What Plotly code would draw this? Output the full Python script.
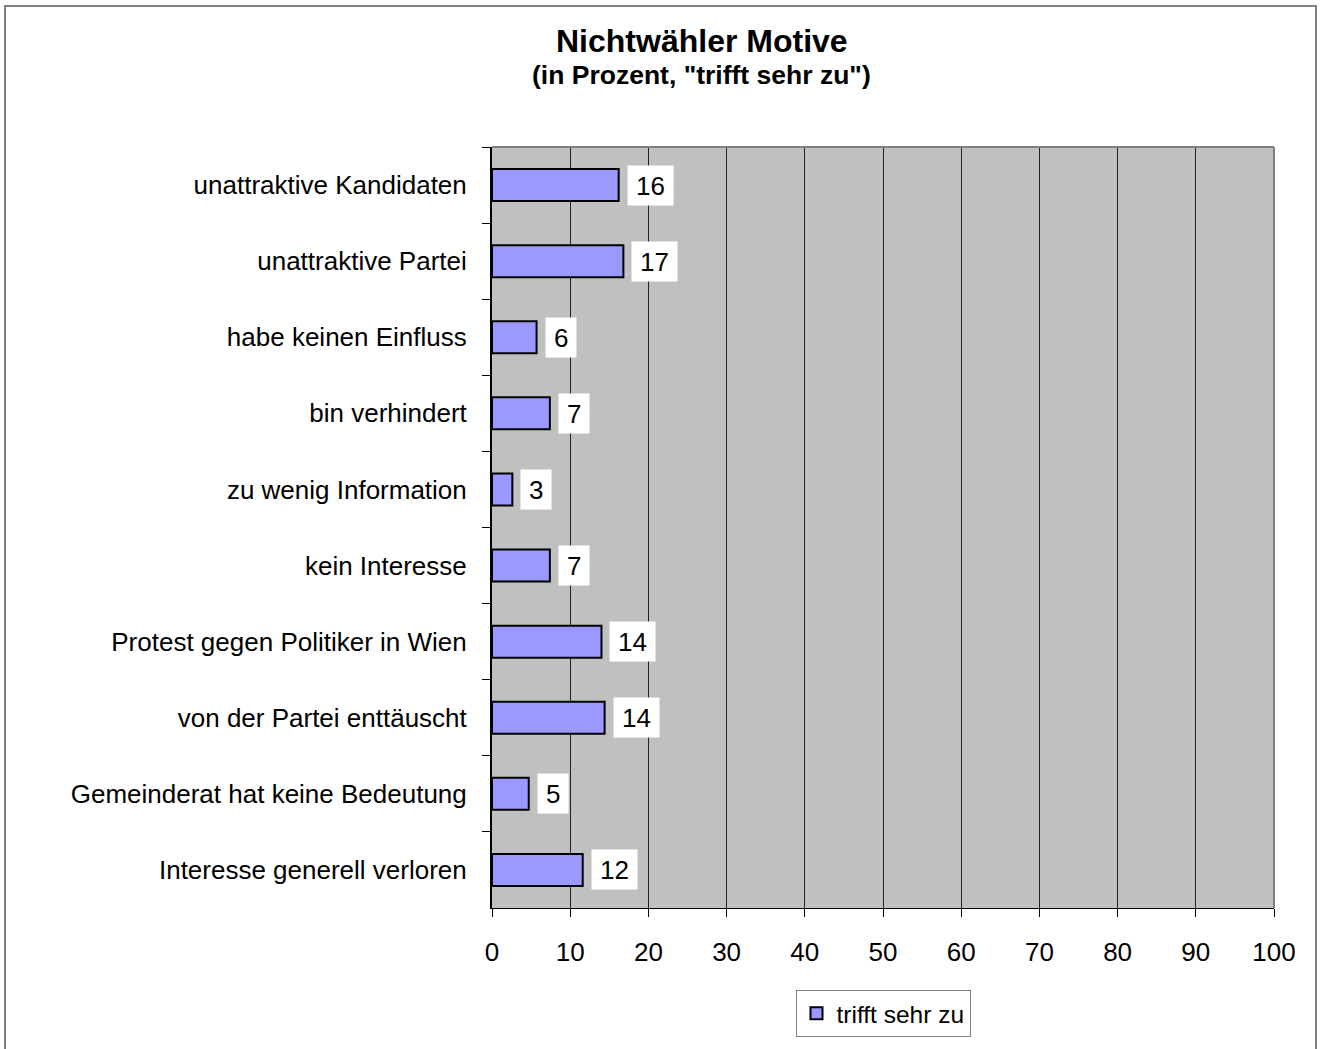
import plotly.graph_objects as go

# Nichtwähler Motive - Anteil "trifft sehr zu" in Prozent
categories = [
    "unattraktive Kandidaten",
    "unattraktive Partei",
    "habe keinen Einfluss",
    "bin verhindert",
    "zu wenig Information",
    "kein Interesse",
    "Protest gegen Politiker in Wien",
    "von der Partei enttäuscht",
    "Gemeinderat hat keine Bedeutung",
    "Interesse generell verloren",
]
values = [16.2, 16.8, 5.7, 7.4, 2.6, 7.4, 14.0, 14.4, 4.7, 11.6]
labels = ["16", "17", "6", "7", "3", "7", "14", "14", "5", "12"]
series_name = "trifft sehr zu"
x_ticks = [0, 10, 20, 30, 40, 50, 60, 70, 80, 90, 100]

FONT = "Arial, Liberation Sans, sans-serif"

# plot area in screen pixels (body margin is removed below)
W, H = 1330, 1049
L, R, T, B = 492, 1274, 147, 913
pw, ph = R - L, B - T


def px_x(p):
    return (p - L) / pw


def px_y(p):
    return 1 - (p - T) / ph


fig = go.Figure()
fig.add_trace(go.Bar(
    x=values, y=categories, orientation="h", name=series_name,
    marker=dict(color="#9999FF", line=dict(color="black", width=2)),
    showlegend=True,
))

annotations = []
for c, v, t in zip(categories, values, labels):
    annotations.append(dict(
        x=v, y=c, xref="x", yref="y", text=t,
        showarrow=False, xanchor="left", xshift=8,
        bgcolor="white", borderpad=8, height=23,
        font=dict(family=FONT, size=26, color="black"),
    ))

annotations.append(dict(
    x=px_x(702), y=px_y(40), xref="paper", yref="paper",
    text="<b>Nichtwähler Motive</b>", showarrow=False,
    xanchor="center", yanchor="middle",
    font=dict(family=FONT, size=32, color="black"),
))
annotations.append(dict(
    x=px_x(701), y=px_y(75), xref="paper", yref="paper",
    text='<b>(in Prozent, "trifft sehr zu")</b>', showarrow=False,
    xanchor="center", yanchor="middle",
    font=dict(family=FONT, size=26.5, color="black"),
))

shapes = [
    # outer chart border
    dict(type="rect", xref="paper", yref="paper",
         x0=px_x(5), x1=px_x(1316), y0=px_y(1080), y1=px_y(5),
         line=dict(color="#808080", width=2), fillcolor="rgba(0,0,0,0)"),
    # plot frame top and right
    dict(type="line", xref="paper", yref="paper", x0=0, x1=1, y0=1, y1=1,
         line=dict(color="#808080", width=2)),
    dict(type="line", xref="paper", yref="paper", x0=1, x1=1, y0=0, y1=1,
         line=dict(color="#808080", width=2)),
]

fig.update_layout(
    width=W, height=H,
    margin=dict(l=L, r=W - R, t=T, b=H - B),
    paper_bgcolor="white", plot_bgcolor="#C0C0C0",
    bargap=0.58,
    font=dict(family=FONT, size=26, color="black"),
    annotations=annotations,
    shapes=shapes,
    legend=dict(
        x=0.5, y=px_y(1019), xanchor="center", yanchor="middle",
        bgcolor="white", bordercolor="#808080", borderwidth=1,
        font=dict(family=FONT, size=24.5, color="black"),
        itemwidth=30,
    ),
)

fig.update_xaxes(
    range=[0, 100], tickvals=x_ticks, showgrid=True,
    gridcolor="#222222", gridwidth=1,
    showline=True, linecolor="black", linewidth=1,
    ticks="outside", ticklen=8, tickcolor="black",
    ticklabelstandoff=13,
    tickfont=dict(family=FONT, size=26), zeroline=False,
    fixedrange=True,
)
fig.update_yaxes(
    autorange="reversed", showgrid=False,
    showline=True, linecolor="black", linewidth=2,
    ticks="outside", ticklen=8, tickcolor="black", tickson="boundaries",
    ticklabelstandoff=18,
    tickfont=dict(family=FONT, size=26),
    fixedrange=True,
)

fig.write_html("out.html", config={"displayModeBar": False},
               post_script="document.body.style.margin = '0';")
